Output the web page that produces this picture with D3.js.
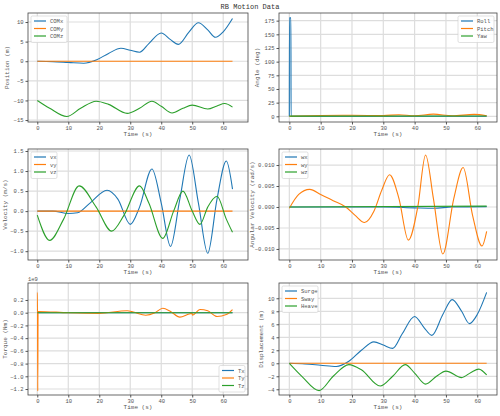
<!DOCTYPE html>
<html><head><meta charset="utf-8">
<script src="https://cdn.jsdelivr.net/npm/d3@7"></script>
<style>body{margin:0;background:#fff}svg{font-family:"Liberation Mono",monospace}</style>
</head><body><svg id="c" width="500" height="416"></svg>
<script>
const C=["#1f77b4","#ff7f0e","#2ca02c"];
// Panel 1: position
const comxT=[0,5,10,15,19,23,27,30,33,36,40,43,45.5,49,52,55,57.5,60,63];
const comxV=[0,-0.1,-0.3,-0.5,0.3,2,3.3,2.8,2.3,4.5,7.2,5.5,4.3,7.5,9.8,8,6.1,7.5,10.9];
const comyT=[0,63], comyV=[0,0];
const comzT=[0,4,9.5,14,19,23,29,33,37,40,43.5,47,50,55,58,60.5,63];
const comzV=[-10,-12,-14.1,-12,-10.2,-11,-13.3,-12,-10.2,-11.5,-13.2,-12,-11.2,-12.2,-11.4,-10.8,-11.7];
// Panel 2: angles
const rollT=[0,0.02,0.5,0.55,63], rollV=[0,180,180,0,0];
const pitchT=[0,10,20,30,35,40,46,52,59,63], pitchV=[0,1.5,2,1.2,3,1,4,1,3.5,1];
const yawT=[0,63], yawV=[0.3,0.5];
// Panel 3: velocity
const vxT=[0,5,10,13,17,22.5,26,30,33,37,40,43,46,49,52,55,58,61,63];
const vxV=[0,0,-0.06,-0.04,0.2,0.52,0.3,-0.33,0.1,1.05,0.2,-0.88,0.3,1.4,0.2,-1.05,0.3,1.25,0.55];
const vyT=[0,63], vyV=[0,0];
const vzT=[0,4,8.5,13.5,19,24,28,33,36,40.5,44,47,50,52.5,55,58,61,63];
const vzV=[-0.1,-0.73,-0.2,0.63,0.1,-0.5,-0.1,0.63,0.2,-0.68,0,0.5,0,-0.33,0.1,0.37,-0.2,-0.53];
// Panel 4: angular velocity
const wxT=[0,30,40,46,52,63], wxV=[0,0,-0.0002,-0.0003,0,0.0001];
const wyT=[0,3,6.5,10,14,18,21,24,27,29.5,32,35,38,41,43.5,46,49,52.5,55.5,58.5,61.5,63];
const wyV=[-0.0003,0.003,0.0042,0.003,0.0015,0,-0.002,-0.0037,-0.001,0.004,0.0077,0.002,-0.0079,0,0.0124,0.002,-0.0112,0.002,0.0094,-0.002,-0.0093,-0.0058];
const wzT=[0,63], wzV=[0,0.0002];
// Panel 5: torque (x1e9)
const txT=[0,63], txV=[0,0];
const tyT=[0,0.05,0.15,0.25,10,20,29,31,35,38,40.5,43,46,49,50,50.05,52.5,55,58,61,63];
const tyV=[0.32,0.32,-1.23,0.02,0,-0.01,0.03,0.01,-0.04,0,0.07,0.02,-0.07,-0.02,-0.01,-0.04,0.05,0.03,-0.06,-0.03,0.05];
const tzT=[0,63], tzV=[0,0];
// Panel 6: displacement
const surgeT=comxT, surgeV=comxV;
const swayT=[0,63], swayV=[0,0];
const heaveT=[0,4,9.5,14,19,23,29,33,37,40,43.5,47,50,55,58,60.5,63];
const heaveV=[0,-2,-4.2,-2,-0.2,-1,-3.5,-2,-0.2,-1.5,-3.2,-2,-1.2,-2.2,-1.4,-0.9,-1.8];

const svg=d3.select("#c");
svg.append("text").attr("x",250).attr("y",9).attr("text-anchor","middle").attr("font-size",7).attr("fill","#333").text("RB Motion Data");

function panel(o){
  const x=d3.scaleLinear().domain(o.xd).range([o.l,o.r]);
  const y=d3.scaleLinear().domain(o.yd).range([o.b,o.t]);
  const g=svg.append("g");
  const xt=[0,10,20,30,40,50,60];
  g.append("g").selectAll("line").data(xt).join("line").attr("x1",d=>x(d)).attr("x2",d=>x(d)).attr("y1",o.t).attr("y2",o.b).attr("stroke","#ddd").attr("stroke-width",1.2);
  g.append("g").selectAll("line").data(o.yt).join("line").attr("y1",d=>y(d)).attr("y2",d=>y(d)).attr("x1",o.l).attr("x2",o.r).attr("stroke","#ddd").attr("stroke-width",1.2);
  const ax=g.append("g").attr("transform",`translate(0,${o.b})`).call(d3.axisBottom(x).tickValues(xt).tickSize(2.5).tickPadding(2));
  const ay=g.append("g").attr("transform",`translate(${o.l},0)`).call(d3.axisLeft(y).tickValues(o.yt).tickFormat(o.fmt).tickSize(2.5).tickPadding(2));
  [ax,ay].forEach(a=>{a.select(".domain").remove();a.selectAll("text").attr("font-size",5.5).attr("fill","#555").attr("font-family","Liberation Mono");a.selectAll("line").attr("stroke","#555")});
  g.append("clipPath").attr("id","cp"+o.id).append("rect").attr("x",o.l).attr("y",o.t).attr("width",o.r-o.l).attr("height",o.b-o.t);
  const line=d3.line().x(d=>x(d[0])).y(d=>y(d[1])).curve(d3.curveMonotoneX);
  o.series.forEach((s,i)=>{
    g.append("path").attr("clip-path",`url(#cp${o.id})`).datum(d3.zip(s[1],s[2])).attr("d",line).attr("fill","none").attr("stroke",C[i]).attr("stroke-width",1.1);
  });
  g.append("rect").attr("x",o.l).attr("y",o.t).attr("width",o.r-o.l).attr("height",o.b-o.t).attr("fill","none").attr("stroke","#444").attr("stroke-width",0.8);
  g.append("text").attr("x",(o.l+o.r)/2).attr("y",o.b+14).attr("text-anchor","middle").attr("font-size",6).attr("fill","#555").text("Time (s)");
  const ym=(o.t+o.b)/2;
  g.append("text").attr("transform",`translate(${o.yl},${ym}) rotate(-90)`).attr("text-anchor","middle").attr("font-size",6).attr("fill","#555").text(o.ylabel);
  if(o.off) g.append("text").attr("x",o.l).attr("y",o.t-2).attr("font-size",5.5).attr("fill","#555").text(o.off);
  const lw=o.lw, lh=7.5*3+4;
  const lx=o.leg==="l"?o.l+3:o.r-3-lw;
  const ly=o.legy==="b"?o.b-3-lh:o.t+3;
  const lg=g.append("g").attr("transform",`translate(${lx},${ly})`);
  lg.append("rect").attr("width",lw).attr("height",lh).attr("rx",1.5).attr("fill","#fff").attr("fill-opacity",0.85).attr("stroke","#ccc").attr("stroke-width",0.6);
  o.series.forEach((s,i)=>{
    lg.append("line").attr("x1",3).attr("x2",15).attr("y1",5+i*7.5).attr("y2",5+i*7.5).attr("stroke",C[i]).attr("stroke-width",1.2);
    lg.append("text").attr("x",19).attr("y",7+i*7.5).attr("font-size",5.5).attr("fill","#555").text(s[0]);
  });
}
const L={l:28,r:248,xd:[-3.0,68]}, R={l:279,r:497,xd:[-3.3,66.3]};
panel({id:1,...L,t:13,b:122,yd:[-15.5,12.3],yt:[-15,-10,-5,0,5,10],fmt:d3.format("d"),ylabel:"Position (m)",yl:9,leg:"l",lw:36,
  series:[["COMx",comxT,comxV],["COMy",comyT,comyV],["COMz",comzT,comzV]]});
panel({id:2,...R,t:13,b:122,yd:[-10.4,189],yt:[0,25,50,75,100,125,150,175],fmt:d3.format("d"),ylabel:"Angle (deg)",yl:259,leg:"r",lw:36,
  series:[["Roll",rollT,rollV],["Pitch",pitchT,pitchV],["Yaw",yawT,yawV]]});
panel({id:3,...L,t:149,b:260,yd:[-1.22,1.55],yt:[-1,-0.5,0,0.5,1,1.5],fmt:d3.format(".1f"),ylabel:"Velocity (m/s)",yl:7,leg:"l",lw:26,
  series:[["vx",vxT,vxV],["vy",vyT,vyV],["vz",vzT,vzV]]});
panel({id:4,...R,t:149,b:260,yd:[-0.01263,0.01382],yt:[-0.01,-0.005,0,0.005,0.01],fmt:d3.format(".3f"),ylabel:"Angular Velocity (rad/s)",yl:254,leg:"l",lw:26,
  series:[["wx",wxT,wxV],["wy",wyT,wyV],["wz",wzT,wzV]]});
panel({id:5,...L,t:283,b:395,yd:[-1.294,0.467],yt:[-1.2,-1,-0.8,-0.6,-0.4,-0.2,0,0.2],fmt:d3.format(".1f"),ylabel:"Torque (Nm)",yl:7,leg:"r",legy:"b",lw:26,off:"1e9",
  series:[["Tx",txT,txV],["Ty",tyT,tyV],["Tz",tzT,tzV]]});
panel({id:6,...R,t:283,b:395,yd:[-4.88,12.35],yt:[-4,-2,0,2,4,6,8,10],fmt:d3.format("d"),ylabel:"Displacement (m)",yl:263,leg:"l",lw:36,
  series:[["Surge",surgeT,surgeV],["Sway",swayT,swayV],["Heave",heaveT,heaveV]]});
</script></body></html>
